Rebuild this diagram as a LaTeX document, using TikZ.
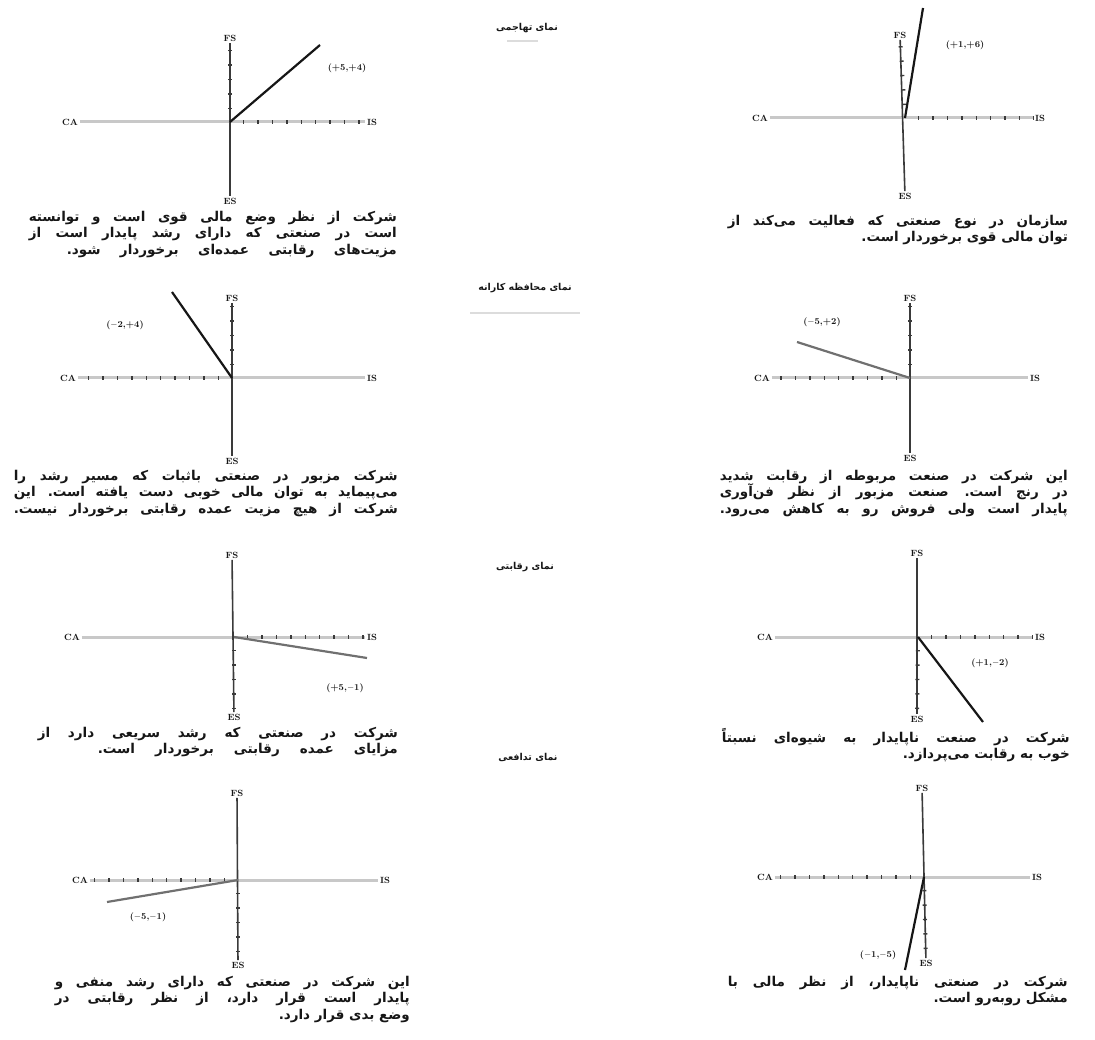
\documentclass[tikz,border=0pt]{standalone}
\usepackage{fontspec}
\newfontfamily\persa[Script=Arabic]{DejaVu Sans}
\TeXXeTstate=1
\usepackage{tikz}
\usetikzlibrary{positioning}
\definecolor{tinta}{HTML}{161616}
\definecolor{tinta2}{HTML}{3A3A3A}
\definecolor{ejegris}{HTML}{C8C8C8}
\definecolor{tenue}{HTML}{DCDCDC}
\definecolor{vecgris}{HTML}{707070}
% renglon justificado: ancho, texto (ya entre \beginR y \endR)
\ExplSyntaxOn
\dim_new:N \l_fa_nat_dim
\dim_new:N \l_fa_extra_dim
\int_new:N \l_fa_esp_int
\box_new:N \l_fa_box
\NewDocumentCommand{\falinea}{mm}{
  \mode_leave_vertical:
  \hbox_set:Nn \l_fa_box { #2 }
  \dim_set:Nn \l_fa_nat_dim { \box_wd:N \l_fa_box }
  \regex_count:nnN { \s } { #2 } \l_fa_esp_int
  \int_compare:nNnT { \l_fa_esp_int } < { 1 } { \int_set:Nn \l_fa_esp_int { 1 } }
  \dim_set:Nn \l_fa_extra_dim { ( #1 - \l_fa_nat_dim ) / \l_fa_esp_int }
  \hbox_to_wd:nn { #1 }
    {
      \skip_set:Nn \spaceskip { \fontdimen 2 \font + \l_fa_extra_dim }
      \hss #2
    }
}
\ExplSyntaxOff
\tikzset{
  eje/.style={font=\bfseries\small,inner sep=1.5pt,text=tinta},
  ejeh/.style={draw=ejegris,line width=3pt},
  ejev/.style={draw=tinta2,line width=1.6pt},
  marcas/.style={draw=tinta2,line width=4pt,dash pattern=on 1.4pt off 13pt,dash phase=1.4pt},
  vector/.style={draw=tinta,line width=2.2pt},
  vectenue/.style={draw=vecgris,line width=2.2pt},
  punto/.style={font=\bfseries\small,inner sep=1pt,text=tinta},
  parrafo/.style={font=\persa\bfseries\fontsize{13.5}{16.5}\selectfont,align=right,inner sep=0pt,text=tinta,anchor=north east},
  titulo/.style={font=\persa\bfseries\fontsize{9.5}{11}\selectfont,inner sep=1pt,text=tinta},
  raya/.style={draw=tenue,line width=1.5pt},
}
\begin{document}
\begin{tikzpicture}[x=1pt,y=-1pt]
\useasboundingbox (0,0) rectangle (1095,1040);
% titulos
\node[titulo] (h1) at (527,28) {\beginR نمای تهاجمی\endR};
\draw[raya] (507,41) -- (538,41);
\node[titulo] (h2) at (525,288) {\beginR نمای محافظه کارانه\endR};
\draw[raya] (470,313) -- (580,313);
\node[titulo] (h3) at (525,567) {\beginR نمای رقابتی\endR};
\node[titulo] (h4) at (528,757) {\beginR نمای تدافعی\endR};
% tahajomi, izquierda
\coordinate (o1) at (230,122);
\node[eje] (fs1) at (230,38) {FS};
\node[eje] (es1) at (230,201) {ES};
\node[eje] (ca1) at (70,122) {CA};
\node[eje] (is1) at (372,122) {IS};
\draw[ejeh] (ca1) -- (is1);
\draw[ejev] (fs1) -- (es1);
\draw[marcas] (o1) -- (is1);
\draw[marcas] (o1) -- (fs1);
\coordinate (v1) at (320,45);
\draw[vector] (o1) -- (v1);
\node[punto] (p1) at (347,68) {(+5,+4)};
\node[parrafo] (t1) at (397,211) {\falinea{368pt}{\beginR شرکت از نظر وضع مالی قوی است و توانسته\endR}\\\falinea{368pt}{\beginR است در صنعتی که دارای رشد پایدار است از\endR}\\\falinea{330pt}{\beginR مزیت‌های رقابتی عمده‌ای برخوردار شود.\endR}};
% tahajomi, derecha
\coordinate (o2) at (905,118);
\node[eje] (fs2) at (900,35) {FS};
\node[eje] (es2) at (905,196) {ES};
\node[eje] (ca2) at (760,118) {CA};
\node[eje] (is2) at (1040,118) {IS};
\draw[ejeh] (ca2) -- (is2);
\draw[ejev] (fs2) -- (es2);
\draw[marcas] (o2) -- (is2);
\draw[marcas] (o2) -- (fs2);
\coordinate (v2) at (923,8);
\draw[vector] (o2) -- (v2);
\node[punto] (p2) at (965,45) {(+1,+6)};
\node[parrafo] (t2) at (1068,215) {\falinea{340pt}{\beginR سازمان در نوع صنعتی که فعالیت می‌کند از\endR}\\\beginR توان مالی قوی برخوردار است.\endR};
% mohafezekarane, izquierda
\coordinate (o3) at (232,378);
\node[eje] (fs3) at (232,298) {FS};
\node[eje] (es3) at (232,461) {ES};
\node[eje] (ca3) at (68,378) {CA};
\node[eje] (is3) at (372,378) {IS};
\draw[ejeh] (ca3) -- (is3);
\draw[ejev] (fs3) -- (es3);
\draw[marcas] (o3) -- (ca3);
\draw[marcas] (o3) -- (fs3);
\coordinate (v3) at (172,292);
\draw[vector] (o3) -- (v3);
\node[punto] (p3) at (125,325) {($-$2,+4)};
\node[parrafo] (t3) at (398,470) {\falinea{384pt}{\beginR شرکت مزبور در صنعتی باثبات که مسیر رشد را\endR}\\\falinea{384pt}{\beginR می‌پیماید به توان مالی خوبی دست یافته است. این\endR}\\\falinea{384pt}{\beginR شرکت از هیچ مزیت عمده رقابتی برخوردار نیست.\endR}};
% mohafezekarane, derecha
\coordinate (o4) at (910,378);
\node[eje] (fs4) at (910,298) {FS};
\node[eje] (es4) at (910,458) {ES};
\node[eje] (ca4) at (762,378) {CA};
\node[eje] (is4) at (1035,378) {IS};
\draw[ejeh] (ca4) -- (is4);
\draw[ejev] (fs4) -- (es4);
\draw[marcas] (o4) -- (ca4);
\draw[marcas] (o4) -- (fs4);
\coordinate (v4) at (797,342);
\draw[vectenue] (o4) -- (v4);
\node[punto] (p4) at (822,322) {($-$5,+2)};
\node[parrafo] (t4) at (1068,470) {\falinea{348pt}{\beginR این شرکت در صنعت مربوطه از رقابت شدید\endR}\\\falinea{348pt}{\beginR در رنج است. صنعت مزبور از نظر فن‌آوری\endR}\\\falinea{348pt}{\beginR پایدار است ولی فروش رو به کاهش می‌رود.\endR}};
% reghabati, izquierda
\coordinate (o5) at (234,637);
\node[eje] (fs5) at (232,555) {FS};
\node[eje] (es5) at (234,717) {ES};
\node[eje] (ca5) at (72,637) {CA};
\node[eje] (is5) at (372,637) {IS};
\draw[ejeh] (ca5) -- (is5);
\draw[ejev] (fs5) -- (es5);
\draw[marcas] (o5) -- (is5);
\draw[marcas] (o5) -- (es5);
\coordinate (v5) at (367,658);
\draw[vectenue] (o5) -- (v5);
\node[punto] (p5) at (345,688) {(+5,$-$1)};
\node[parrafo] (t5) at (398,727) {\falinea{360pt}{\beginR شرکت در صنعتی که رشد سریعی دارد از\endR}\\\falinea{300pt}{\beginR مزایای عمده رقابتی برخوردار است.\endR}};
% reghabati, derecha
\coordinate (o6) at (918,637);
\node[eje] (fs6) at (917,553) {FS};
\node[eje] (es6) at (917,719) {ES};
\node[eje] (ca6) at (765,637) {CA};
\node[eje] (is6) at (1040,637) {IS};
\draw[ejeh] (ca6) -- (is6);
\draw[ejev] (fs6) -- (es6);
\draw[marcas] (o6) -- (is6);
\draw[marcas] (o6) -- (es6);
\coordinate (v6) at (983,722);
\draw[vector] (o6) -- (v6);
\node[punto] (p6) at (990,663) {(+1,$-$2)};
\node[parrafo] (t6) at (1070,728) {\falinea{348pt}{\beginR شرکت در صنعت ناپایدار به شیوه‌ای نسبتاً\endR}\\\beginR خوب به رقابت می‌پردازد.\endR};
% tadafoi, izquierda
\coordinate (o7) at (238,880);
\node[eje] (fs7) at (237,793) {FS};
\node[eje] (es7) at (238,965) {ES};
\node[eje] (ca7) at (80,880) {CA};
\node[eje] (is7) at (385,880) {IS};
\draw[ejeh] (ca7) -- (is7);
\draw[ejev] (fs7) -- (es7);
\draw[marcas] (o7) -- (ca7);
\draw[marcas] (o7) -- (es7);
\coordinate (v7) at (107,902);
\draw[vectenue] (o7) -- (v7);
\node[punto] (p7) at (148,917) {($-$5,$-$1)};
\node[parrafo] (t7) at (410,976) {\falinea{355pt}{\beginR این شرکت در صنعتی که دارای رشد منفی و\endR}\\\falinea{355pt}{\beginR پایدار است قرار دارد، از نظر رقابتی در\endR}\\\beginR وضع بدی قرار دارد.\endR};
% tadafoi, derecha
\coordinate (o8) at (924,877);
\node[eje] (fs8) at (922,788) {FS};
\node[eje] (es8) at (926,963) {ES};
\node[eje] (ca8) at (765,877) {CA};
\node[eje] (is8) at (1037,877) {IS};
\draw[ejeh] (ca8) -- (is8);
\draw[ejev] (fs8) -- (es8);
\draw[marcas] (o8) -- (ca8);
\draw[marcas] (o8) -- (es8);
\coordinate (v8) at (905,970);
\draw[vector] (o8) -- (v8);
\node[punto] (p8) at (878,955) {($-$1,$-$5)};
\node[parrafo] (t8) at (1068,976) {\falinea{340pt}{\beginR شرکت در صنعتی ناپایدار، از نظر مالی با\endR}\\\beginR مشکل روبه‌رو است.\endR};
\end{tikzpicture}
\end{document}
